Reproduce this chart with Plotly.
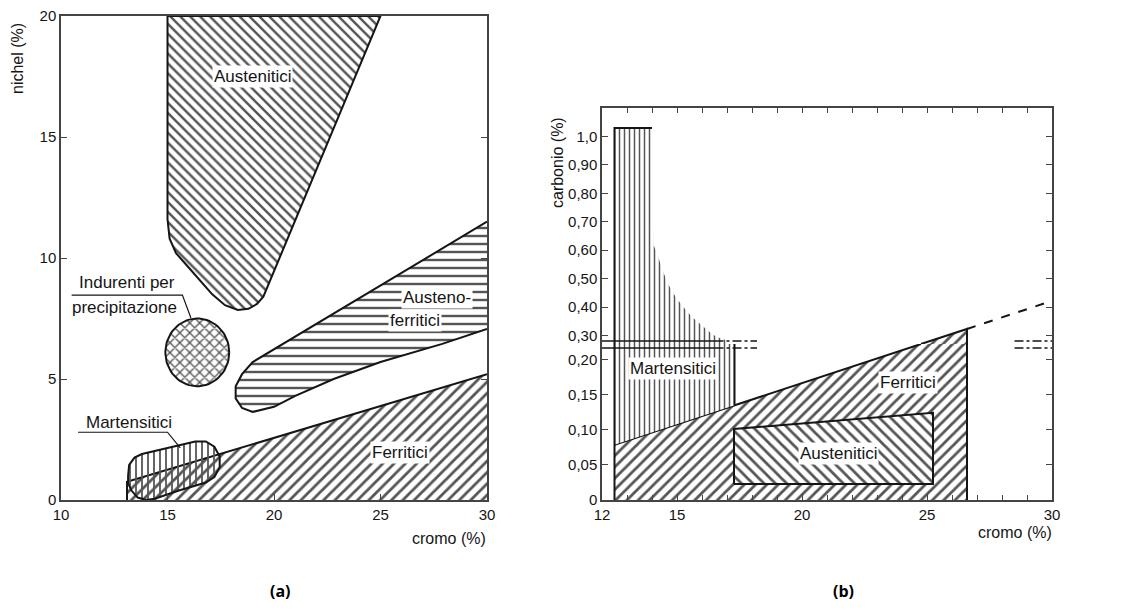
import numpy as np
import plotly.graph_objects as go

# ---------------- Panel (a): cromo vs nichel ----------------
aus_a_x = [15.0, 15.0, 15.1, 15.4, 15.9, 16.5, 17.1, 17.7, 18.3, 18.8, 19.2, 19.5, 25.0, 15.0]
aus_a_y = [20.0, 11.6, 10.8, 10.2, 9.7, 9.1, 8.5, 8.05, 7.85, 7.9, 8.1, 8.4, 20.0, 20.0]

af_x = [30.0, 19.0, 18.5, 18.2, 18.2, 18.5, 19.0, 20.0, 21.0, 22.8, 25.0, 27.9, 30.0]
af_y = [11.5, 5.7, 5.2, 4.7, 4.2, 3.8, 3.64, 3.85, 4.3, 5.0, 5.7, 6.45, 7.07]

fer_a_x = [13.1, 13.1, 30.0, 30.0, 13.1]
fer_a_y = [0.0, 0.75, 5.2, 0.0, 0.0]

mart_a_x = [13.15, 13.2, 13.45, 13.8, 15.0, 16.3, 16.8, 17.2, 17.45, 17.45, 17.2, 16.8, 15.5, 14.4, 14.0, 13.6, 13.3, 13.15, 13.15]
mart_a_y = [1.0, 1.45, 1.75, 1.9, 2.15, 2.42, 2.42, 2.2, 1.8, 1.35, 0.95, 0.72, 0.38, 0.05, 0.0, 0.1, 0.4, 0.7, 1.0]

ind_center = (16.4, 6.1)
ind_radius = (1.5, 1.4)

# ---------------- Panel (b): cromo vs carbonio ----------------
fer_b_low_x = [12.5, 12.5, 24.76, 26.6, 26.6, 12.5]
fer_b_low_y = [0.0, 0.0786, 0.222, 0.222, 0.0, 0.0]
fer_b_top_x = [24.76, 26.6, 26.6, 24.76]
fer_b_top_y = [0.27, 0.323, 0.27, 0.27]
fer_b_ext_x = [26.6, 29.7]
fer_b_ext_y = [0.323, 0.413]

mart_b_low_x = [12.5, 12.5, 17.3, 17.3, 12.5]
mart_b_low_y = [0.0786, 0.222, 0.222, 0.1349, 0.0786]
mart_b_top_x = [12.5, 12.5, 14.0, 14.05, 14.2, 14.4, 14.6, 14.8, 15.0, 15.2, 15.4, 15.6, 15.8, 16.0,
                16.2, 16.4, 16.6, 16.8, 17.0, 17.0, 12.5]
mart_b_top_y = [0.27, 1.03, 1.03, 0.62, 0.59, 0.535, 0.49, 0.455, 0.43, 0.405, 0.385, 0.365, 0.35, 0.335,
                0.32, 0.305, 0.295, 0.288, 0.282, 0.27, 0.27]

aus_b_x = [17.28, 17.28, 25.24, 25.24, 17.28]
aus_b_y = [0.0229, 0.101, 0.124, 0.0229, 0.0229]

x_ticks_a = [10, 15, 20, 25, 30]
y_ticks_a = [0, 5, 10, 15, 20]
x_ticks_b = [12, 15, 20, 25, 30]
y_ticks_b_low = [0, 0.05, 0.10, 0.15, 0.20]
y_text_b_low = ["0", "0,05", "0,10", "0,15", "0,20"]
y_ticks_b_top = [0.3, 0.4, 0.5, 0.6, 0.7, 0.8, 0.9, 1.0]
y_text_b_top = ["0,30", "0,40", "0,50", "0,60", "0,70", "0,80", "0,90", "1,0"]

INK = "#151515"
HATCH = "#555555"
FONT = "Liberation Sans"


def patt(shape, size=7, sol=0.35, bg="white"):
    return dict(shape=shape, size=size, solidity=sol, fgcolor=HATCH, bgcolor=bg, fillmode="replace")


def area(x, y, xa, ya, shape, size=7, sol=0.35, bg="white", line=True):
    return go.Scatter(x=x, y=y, xaxis=xa, yaxis=ya, mode="lines", fill="toself",
                      fillcolor=bg, fillpattern=patt(shape, size, sol, bg),
                      line=dict(color=INK, width=2 if line else 0), hoverinfo="skip")


def edge(x, y, xa, ya, dash="solid", width=2):
    return go.Scatter(x=x, y=y, xaxis=xa, yaxis=ya, mode="lines",
                      line=dict(color=INK, width=width, dash=dash), hoverinfo="skip")


fig = go.Figure()

# panel (a)
fig.add_trace(area(fer_a_x, fer_a_y, "x", "y", "/", 8, 0.35, "white", line=False))
fig.add_trace(edge(fer_a_x[:3], fer_a_y[:3], "x", "y"))
fig.add_trace(area(aus_a_x, aus_a_y, "x", "y", "\\", 7, 0.35))
fig.add_trace(area(af_x, af_y, "x", "y", "-", 8, 0.3))
th = np.linspace(0, 2 * np.pi, 80)
fig.add_trace(area(ind_center[0] + ind_radius[0] * np.cos(th),
                   ind_center[1] + ind_radius[1] * np.sin(th), "x", "y", "x", 7, 0.35))
fig.add_trace(area(mart_a_x, mart_a_y, "x", "y", "|", 6, 0.3, "rgba(0,0,0,0)"))

# panel (b)
fig.add_trace(area(fer_b_low_x, fer_b_low_y, "x2", "y2", "/", 8, 0.35, "white", line=False))
fig.add_trace(edge(fer_b_low_x[1:3], fer_b_low_y[1:3], "x2", "y2"))
fig.add_trace(edge([26.6, 26.6], [0.0, 0.222], "x2", "y2"))
fig.add_trace(area(mart_b_low_x, mart_b_low_y, "x2", "y2", "|", 5, 0.3, "white", line=False))
fig.add_trace(edge([12.5, 12.5], [0.0, 0.222], "x2", "y2"))
fig.add_trace(edge([17.3, 17.3], [0.1349, 0.222], "x2", "y2"))
fig.add_trace(area(aus_b_x, aus_b_y, "x2", "y2", "\\", 8, 0.35))

fig.add_trace(area(fer_b_top_x, fer_b_top_y, "x3", "y3", "/", 8, 0.35, "white", line=False))
fig.add_trace(edge(fer_b_top_x[:3], fer_b_top_y[:3], "x3", "y3"))
fig.add_trace(edge([26.6, 26.6], [0.27, 0.323], "x3", "y3"))
fig.add_trace(edge(fer_b_ext_x, fer_b_ext_y, "x3", "y3", dash="dash"))
fig.add_trace(area(mart_b_top_x, mart_b_top_y, "x3", "y3", "|", 5, 0.3, "white", line=False))
fig.add_trace(edge(mart_b_top_x[:3], mart_b_top_y[:3], "x3", "y3"))

tf = dict(family=FONT, size=15, color=INK)
ax_common = dict(showgrid=False, zeroline=False, showline=True, linecolor="#444", linewidth=1.5,
                 ticks="inside", ticklen=6, tickcolor="#444", tickfont=tf, automargin=False,
                 ticklabeloverflow="allow")

# page body has an 8px margin: the figure is drawn 8px in from the top-left corner
OFF = 8
W, H = 1123 - 2 * OFF, 612 - 2 * OFF


def px_x(p):
    return (p - OFF) / W


def px_y(p):
    return (H - (p - OFF)) / H


fig.update_layout(
    width=W, height=H, margin=dict(l=0, r=0, t=0, b=0, autoexpand=False),
    paper_bgcolor="white", plot_bgcolor="white", showlegend=False,
    xaxis=dict(domain=[px_x(61), px_x(487)], range=[10, 30], tickvals=x_ticks_a,
               anchor="y", mirror=True, **ax_common),
    yaxis=dict(domain=[px_y(500), px_y(16)], range=[0, 20], tickvals=y_ticks_a,
               anchor="x", mirror="ticks", **ax_common),
    xaxis2=dict(domain=[px_x(602), px_x(1052)], range=[12, 30], tickvals=x_ticks_b,
                anchor="y2", minor=dict(dtick=1, tick0=12, ticks="inside", ticklen=5, tickcolor="#444"),
                **ax_common),
    yaxis2=dict(domain=[px_y(500), px_y(344)], range=[0, 0.222], tickvals=y_ticks_b_low,
                ticktext=y_text_b_low, anchor="x2", mirror="ticks", **ax_common),
    xaxis3=dict(domain=[px_x(602), px_x(1052)], matches="x2", range=[12, 30], anchor="y3", side="top",
                showticklabels=False, dtick=1, tick0=12, showgrid=False, zeroline=False, showline=True,
                linecolor="#444", linewidth=1.5, ticks="inside", ticklen=5, tickcolor="#444",
                automargin=False),
    yaxis3=dict(domain=[px_y(344), px_y(108)], range=[0.27, 1.10], tickvals=y_ticks_b_top,
                ticktext=y_text_b_top, anchor="x3", mirror="ticks", **ax_common),
)

lab = dict(family=FONT, size=17, color=INK)
ann = [
    dict(x=19.0, y=17.5, xref="x", yref="y", text="Austenitici"),
    dict(x=27.65, y=8.35, xref="x", yref="y", text="Austeno-"),
    dict(x=26.6, y=7.4, xref="x", yref="y", text="ferritici"),
    dict(x=25.9, y=1.95, xref="x", yref="y", text="Ferritici"),
    dict(x=13.1, y=9.0, xref="x", yref="y", text="Indurenti per", bgcolor="rgba(0,0,0,0)"),
    dict(x=13.0, y=7.95, xref="x", yref="y", text="precipitazione", bgcolor="rgba(0,0,0,0)"),
    dict(x=13.2, y=3.2, xref="x", yref="y", text="Martensitici", bgcolor="rgba(0,0,0,0)"),
    dict(x=14.85, y=0.187, xref="x2", yref="y2", text="Martensitici"),
    dict(x=24.25, y=0.167, xref="x2", yref="y2", text="Ferritici"),
    dict(x=21.45, y=0.066, xref="x2", yref="y2", text="Austenitici"),
]
for a in ann:
    a.setdefault("bgcolor", "white")
    fig.add_annotation(showarrow=False, font=lab, borderpad=1, xanchor="center", yanchor="middle", **a)

ttl = dict(family=FONT, size=16, color=INK)
paper_txt = [
    dict(x=px_x(18), y=px_y(59), text="nichel (%)", textangle=-90, xanchor="center", yanchor="middle", font=ttl),
    dict(x=px_x(488), y=px_y(538), text="cromo (%)", xanchor="right", yanchor="middle", font=ttl),
    dict(x=px_x(557), y=px_y(163), text="carbonio (%)", textangle=-90, xanchor="center", yanchor="middle", font=ttl),
    dict(x=px_x(1054), y=px_y(532), text="cromo (%)", xanchor="right", yanchor="middle", font=ttl),
    dict(x=px_x(280), y=px_y(604), text="<b>(a)</b>", xanchor="center", yanchor="bottom",
         font=dict(family="Open Sans", size=16, color="black")),
    dict(x=px_x(843), y=px_y(604), text="<b>(b)</b>", xanchor="center", yanchor="bottom",
         font=dict(family="Open Sans", size=16, color="black")),
]
for a in paper_txt:
    fig.add_annotation(xref="paper", yref="paper", showarrow=False, **a)

# leader lines / underlines in panel (a)
fig.add_shape(type="path", xref="x", yref="y", path="M 10.5 8.47 L 15.7 8.47 L 16.1 7.52",
              line=dict(color=INK, width=1.2))
fig.add_shape(type="path", xref="x", yref="y", path="M 10.8 2.8 L 15.0 2.8 L 15.6 2.15",
              line=dict(color=INK, width=1.2))

# axis break lines in panel (b)
for py in (341, 348):
    yp = px_y(py)
    fig.add_shape(type="line", xref="x2", yref="paper", x0=11.9, x1=16.5, y0=yp, y1=yp,
                  line=dict(color=INK, width=1.5))
    fig.add_shape(type="line", xref="x2", yref="paper", x0=16.5, x1=18.2, y0=yp, y1=yp,
                  line=dict(color=INK, width=1.5, dash="dashdot"))
    fig.add_shape(type="line", xref="x2", yref="paper", x0=28.5, x1=30.3, y0=yp, y1=yp,
                  line=dict(color=INK, width=1.5, dash="dashdot"))

fig.write_html("out.html")
